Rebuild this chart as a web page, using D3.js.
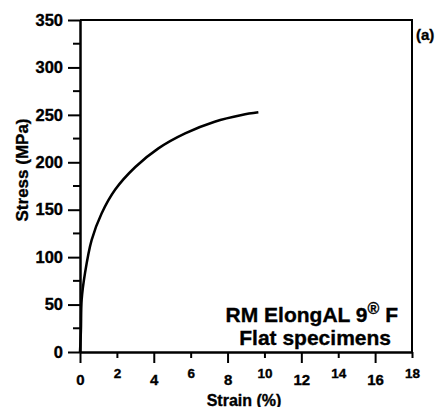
<!DOCTYPE html>
<html>
<head>
<meta charset="utf-8">
<style>
  body { margin: 0; background: #fff; }
  text { font-family: "Liberation Sans", Arial, sans-serif; font-weight: 700; fill: #000; stroke: #000; stroke-width: 0.35px; }
</style>
</head>
<body>
<div id="chart"></div>
<script src="https://d3js.org/d3.v7.min.js"></script>
<script>
  // data
  const strain = [0, 0.05, 0.09, 0.27, 0.63, 1.17, 1.9, 3.0, 4.25, 5.7, 7.3, 8.77, 9.67];
  const stress = [0, 23, 55, 83, 118, 146, 171, 195, 214.7, 230.5, 242.8, 249.9, 252.7];
  const xTicks = [0, 2, 4, 6, 8, 10, 12, 14, 16, 18];
  const yTicks = [0, 50, 100, 150, 200, 250, 300, 350];
  const yMinor = [25, 75, 125, 175, 225, 275, 325];

  const W = 441, H = 407;
  const margin = { top: 20, right: 29, bottom: 55, left: 80 };
  const width = W - margin.left - margin.right;
  const height = H - margin.top - margin.bottom;

  const svg = d3.select("#chart").append("svg")
    .attr("width", W).attr("height", H);
  const g = svg.append("g")
    .attr("transform", "translate(" + margin.left + "," + margin.top + ")");

  const x = d3.scaleLinear().domain([0, 18]).range([0, width]);
  const y = d3.scaleLinear().domain([0, 350]).range([height, 0]);

  // frame (top and right)
  g.append("path")
    .attr("d", "M0,0H" + width + "V" + height)
    .attr("fill", "none").attr("stroke", "#000").attr("stroke-width", 2);

  // y axis
  const yAxis = g.append("g")
    .call(d3.axisLeft(y).tickValues(yTicks).tickSize(12).tickSizeOuter(0).tickFormat(d3.format("d")));
  yAxis.attr("font-family", null).attr("font-size", null);
  yAxis.selectAll("line").attr("stroke-width", 2);
  yAxis.select(".domain").attr("stroke-width", 2.5);
  yAxis.selectAll("text")
    .attr("x", -17)
    .style("font-size", "16.5px");
  g.append("g").selectAll("line").data(yMinor).enter().append("line")
    .attr("x1", -7).attr("x2", 0)
    .attr("y1", d => y(d)).attr("y2", d => y(d))
    .attr("stroke", "#000").attr("stroke-width", 2);

  // x axis: major ticks at 0,4,8.. are longer with bigger, lower labels
  const xAxis = g.append("g")
    .attr("transform", "translate(0," + height + ")")
    .call(d3.axisBottom(x).tickValues(xTicks).tickSizeOuter(0).tickFormat(d3.format("d")));
  xAxis.attr("font-family", null).attr("font-size", null);
  xAxis.select(".domain").attr("stroke-width", 2.5);
  xAxis.selectAll(".tick line")
    .attr("stroke-width", 2)
    .attr("y2", (d, i) => i % 2 === 0 ? 11 : 6);
  xAxis.selectAll(".tick text")
    .style("font-size", (d, i) => i % 2 === 0 ? "15px" : "13.5px")
    .attr("dy", 0)
    .attr("y", (d, i) => i % 2 === 0 ? 33 : 26);

  // curve
  const line = d3.line()
    .x(d => x(d[0]))
    .y(d => y(d[1]))
    .curve(d3.curveCatmullRom.alpha(0.5));
  g.append("path")
    .datum(strain.map((s, i) => [s, stress[i]]))
    .attr("d", line)
    .attr("fill", "none").attr("stroke", "#000").attr("stroke-width", 2.5);

  // titles
  g.append("text")
    .attr("transform", "rotate(-90)")
    .attr("x", -150).attr("y", -52)
    .attr("text-anchor", "middle").style("font-size", "17px")
    .text("Stress (MPa)");
  g.append("text")
    .attr("x", width / 2 - 2).attr("y", height + 54)
    .attr("text-anchor", "middle").style("font-size", "16px")
    .text("Strain (%)");

  // annotation
  const ann = g.append("text")
    .attr("x", width - 14).attr("y", 302)
    .attr("text-anchor", "end").style("font-size", "21px");
  ann.append("tspan").text("RM ElongAL 9");
  ann.append("tspan").attr("dy", -8).style("font-size", "16px").text("®");
  ann.append("tspan").attr("dy", 8).text(" F");
  g.append("text")
    .attr("x", width - 21).attr("y", 325)
    .attr("text-anchor", "end").style("font-size", "21px")
    .text("Flat specimens");

  svg.append("text")
    .attr("x", 416).attr("y", 40)
    .style("font-size", "15px")
    .text("(a)");
</script>
</body>
</html>
